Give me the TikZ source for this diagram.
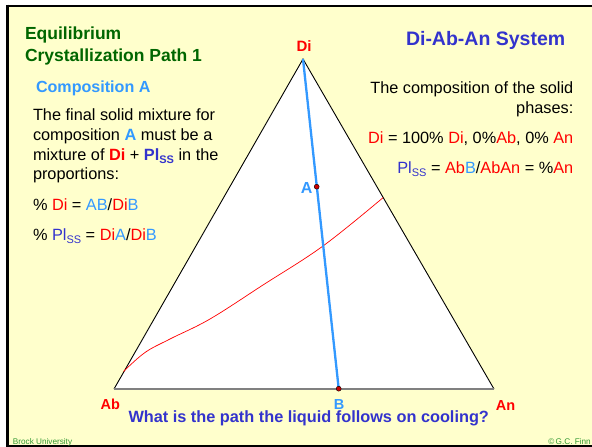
\documentclass[tikz,border=0pt]{standalone}
\usepackage{fontspec}
\setmainfont{Liberation Sans}
\definecolor{bgyellow}{HTML}{FFFFCC}
\definecolor{lblue}{HTML}{3399FF}
\definecolor{dblue}{HTML}{3333CC}
\definecolor{dgreen}{HTML}{006600}
\definecolor{fgreen}{HTML}{339933}
\definecolor{myred}{HTML}{FF0000}
\newcommand\myfs[1]{\fontsize{#1}{#1}\selectfont}
\newcommand\subSS{\raisebox{-3.2pt}{\myfs{11}SS}}
\newcommand\rd[1]{\textcolor{myred}{#1}}
\newcommand\lb[1]{\textcolor{lblue}{#1}}
\newcommand\db[1]{\textcolor{dblue}{#1}}
\tikzset{
  txt/.style={inner sep=0pt, outer sep=0pt, anchor=base west, font=\myfs{16.3}},
  txtr/.style={inner sep=0pt, outer sep=0pt, anchor=base east, font=\myfs{16.3}},
  corner/.style={inner sep=0pt, outer sep=0pt, anchor=base, font=\bfseries\myfs{14.5}, text=myred},
  dotmark/.style={circle, fill=myred!80!black, draw=black, line width=0.4pt, minimum size=5pt, inner sep=0pt},
}
\begin{document}
\begin{tikzpicture}[x=1pt,y=-1pt]
\useasboundingbox (0,0) rectangle (592,447);
\fill[white] (0,0) rectangle (592,447);
\fill[bgyellow] (7,5) rectangle (592,446);
% frame
\draw[line width=2pt] (6,6) -- (592,6);
\draw[line width=3pt] (7.5,4.5) -- (7.5,447);
\draw[line width=2pt] (6,446) -- (592,446);

% triangle
\coordinate (Di) at (303,59);
\coordinate (Ab) at (114,389);
\coordinate (An) at (494,389);
\fill[white] (Di) -- (Ab) -- (An) -- cycle;
\draw[black, line width=0.9pt] (Ab) -- (Di) -- (An);
\draw[gray, line width=1.4pt] (Ab) -- (An);

% liquid path curve
\draw[myred, line width=0.7pt] plot[smooth, tension=0.6] coordinates {
  (123.5,371.5) (145,352.5) (170,339) (210,319) (263,285) (323,246) (383,197.7)};

% tie line
\coordinate (B) at (338.7,388.7);
\draw[lblue, line width=2.3pt] (Di) -- (B);
\node[dotmark] (Adot) at (316.7,186.7) {};
\node[dotmark] (Bdot) at (B) {};

% corner labels
\node[corner, font=\bfseries\myfs{15}] (lDi) at (304,51.7) {Di};
\node[corner] (lAb) at (110.3,409) {Ab};
\node[corner] (lAn) at (505.5,410) {An};
\node[corner, text=lblue] (lB) at (339,409) {B};
\node[inner sep=0pt, anchor=base east, font=\bfseries\myfs{16}, text=lblue] (lA) at (312.7,193.3) {A};

% titles
\node[txt, font=\bfseries\myfs{17.5}, text=dgreen] (t1) at (25,39.3) {Equilibrium};
\node[txt, font=\bfseries\myfs{17.5}, text=dgreen] (t2) at (25,61.5) {Crystallization Path 1};
\node[txt, font=\bfseries\myfs{16.1}, text=lblue] (t3) at (36,92.7) {Composition A};
\node[txt, font=\bfseries\myfs{19.5}, text=dblue] (t4) at (406,45.5) {Di-Ab-An System};

% left text
\node[txt] (l1) at (33,120.7) {The final solid mixture for};
\node[txt] (l2) at (33,140.4) {composition \lb{\textbf{A}} must be a};
\node[txt] (l3) at (33,160.1) {mixture of \rd{\textbf{Di}} + \db{\textbf{Pl\subSS}} in the};
\node[txt] (l4) at (33,179.8) {proportions:};
\node[txt] (l5) at (33,210) {\% \rd{Di} = \lb{AB}/\rd{Di}\lb{B}};
\node[txt] (l6) at (33,240) {\% \db{Pl\subSS} = \rd{Di}\lb{A}/\rd{Di}\lb{B}};

% right text
\node[txtr] (r1) at (573.3,93.4) {The composition of the solid};
\node[txtr] (r2) at (573.3,113.6) {phases:};
\node[txtr] (r3) at (573.3,143.4) {\rd{Di} = 100\% \rd{Di}, 0\%\rd{Ab}, 0\% \rd{An}};
\node[txtr] (r4) at (573.3,173.4) {\db{Pl\subSS} = \rd{Ab}\lb{B}/\rd{AbAn} = \%\rd{An}};

% question
\node[inner sep=0pt, anchor=base west, font=\bfseries\myfs{16.3}, text=dblue] (q) at (128.3,422.5) {What is the path the liquid follows on cooling?};

% footer
\node[inner sep=0pt, anchor=base west, font=\myfs{8.2}, text=fgreen] (f1) at (12.7,444) {Brock University};
\node[inner sep=0pt, anchor=base east, font=\myfs{8.2}, text=fgreen] (f2) at (591,444) {\textcopyright\,G.C. Finn};
\end{tikzpicture}
\end{document}
